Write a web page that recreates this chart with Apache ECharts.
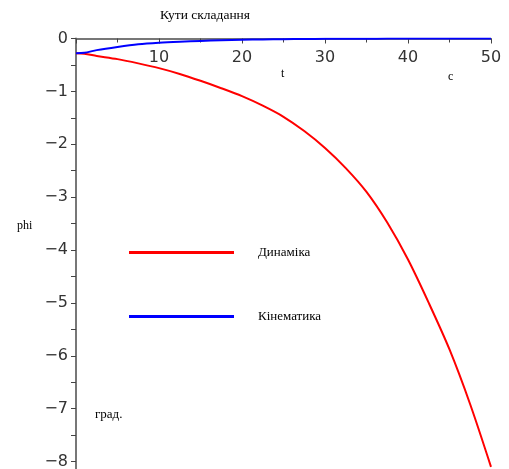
<!DOCTYPE html>
<html><head><meta charset="utf-8">
<script src="https://cdn.jsdelivr.net/npm/echarts@6/dist/echarts.min.js"></script>
<style>html,body{margin:0;padding:0;background:#fff}#c{width:509px;height:469px}</style>
</head><body><div id="c"></div>
<script>
var tValues = [0, 1, 2.5, 5, 7.5, 10, 12.5, 15, 17.5, 20, 22.5, 25, 27.5, 30, 32.5, 35, 37.5, 40, 42.5, 45, 47.5, 50];
var dynamics = [-0.28, -0.29, -0.33, -0.39, -0.47, -0.56, -0.67, -0.80, -0.94, -1.09, -1.27, -1.48, -1.75, -2.07, -2.45, -2.90, -3.48, -4.18, -5.00, -5.88, -6.92, -8.10];
var kinematics = [-0.28, -0.27, -0.22, -0.16, -0.11, -0.08, -0.06, -0.045, -0.035, -0.025, -0.018, -0.013, -0.009, -0.006, -0.004, -0.003, -0.002, -0.0015, -0.001, -0.001, -0.0005, -0.0005];
var yTicks = [-8, -7, -6, -5, -4, -3, -2, -1, 0];
var yMinorTicks = [-8, -7.5, -7, -6.5, -6, -5.5, -5, -4.5, -4, -3.5, -3, -2.5, -2, -1.5, -1, -0.5, 0];
var seriesNames = ['Динаміка', 'Кінематика'];

function pairs(arr){ return tValues.map(function(t,i){ return [t, arr[i]]; }); }

var chart = echarts.init(document.getElementById('c'));
var serif = 'Liberation Serif';
chart.setOption({
  animation: false,
  backgroundColor: '#fff',
  grid: { left: 76, right: 18, top: 38.5, bottom: 0, containLabel: false, outerBoundsMode: 'none' },
  title: { text: 'Кути складання', left: 160, top: 8, padding: 0,
    textStyle: { fontFamily: serif, fontWeight: 'normal', fontSize: 13.5, color: '#000' } },
  legend: {
    orient: 'vertical', left: 129, top: 246, padding: 0, itemWidth: 105, itemHeight: 3, itemGap: 51,
    icon: 'rect', data: seriesNames,
    textStyle: { fontFamily: serif, fontSize: 13, color: '#000', padding: [0, 0, 0, 19] }
  },
  xAxis: {
    type: 'value', min: 0, max: 50, interval: 10, position: 'top',
    axisLine: { onZero: false, lineStyle: { color: '#777', width: 2 } },
    axisTick: { show: true, length: 5, inside: true, lineStyle: { color: '#444' } },
    minorTick: { show: true, splitNumber: 2, length: 4, lineStyle: { color: '#444' } },
    splitLine: { show: false },
    axisLabel: { inside: true, showMinLabel: false, margin: 11, fontFamily: 'DejaVu Sans', fontSize: 16, color: '#333',
      verticalAlign: 'top' }
  },
  yAxis: {
    type: 'value', min: -8.14, max: 0,
    axisLine: { show: true, lineStyle: { color: '#777', width: 2 } },
    axisTick: { show: true, length: 5, customValues: yMinorTicks, lineStyle: { color: '#444' } },
    splitLine: { show: false },
    axisLabel: { customValues: yTicks, margin: 8, fontFamily: 'DejaVu Sans', fontSize: 16, color: '#333',
      formatter: function(v){ return v < 0 ? '\u2212' + Math.abs(v) : String(v); } }
  },
  graphic: [
    { type: 'text', left: 281, top: 68, style: { text: 't', font: '12px "Liberation Serif"', fill: '#000' } },
    { type: 'text', left: 448, top: 71, style: { text: 'c', font: '12px "Liberation Serif"', fill: '#000' } },
    { type: 'text', left: 17, top: 220, style: { text: 'phi', font: '12px "Liberation Serif"', fill: '#000' } },
    { type: 'text', left: 95, top: 408, style: { text: 'град.', font: '13px "Liberation Serif"', fill: '#000' } }
  ],
  series: [
    { name: seriesNames[0], type: 'line', data: pairs(dynamics), showSymbol: false, smooth: 0.3,
      lineStyle: { color: '#ff0000', width: 2 }, itemStyle: { color: '#ff0000' } },
    { name: seriesNames[1], type: 'line', data: pairs(kinematics), showSymbol: false, smooth: 0.3,
      lineStyle: { color: '#0000ff', width: 2 }, itemStyle: { color: '#0000ff' } }
  ]
});
</script></body></html>
